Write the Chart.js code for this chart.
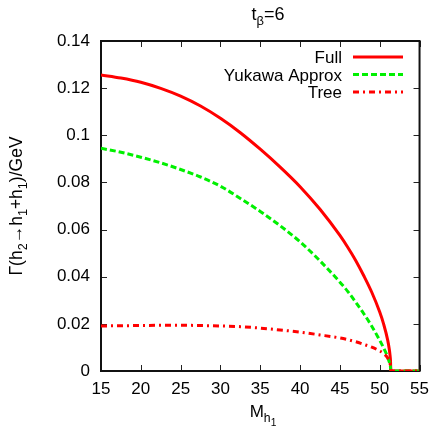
<!DOCTYPE html>
<html>
<head>
<meta charset="utf-8">
<script src="https://cdn.jsdelivr.net/npm/chart.js@4.4.0/dist/chart.umd.min.js"></script>
<style>
  body { margin: 0; background: #fff; }
  #wrap { width: 437px; height: 426px; }
</style>
</head>
<body>
<div id="wrap"><canvas id="myChart" width="437" height="426"></canvas></div>
<script>
const mass = [15, 17.5, 20, 22.5, 25, 27.5, 30, 32.5, 35, 37.5, 40, 42.5, 45, 46, 47, 48, 49, 50, 50.5, 51, 51.2, 51.3, 51.35, 51.4, 52, 55];
const full = [0.1256, 0.1243, 0.1225, 0.1199, 0.1166, 0.1124, 0.1072, 0.1011, 0.0941, 0.0865, 0.0782, 0.0686, 0.0575, 0.0524, 0.0468, 0.0404, 0.0334, 0.025, 0.0198, 0.0131, 0.0092, 0.0065, 0.0046, 0, 0, 0];
const yukawa = [0.0945, 0.0928, 0.0907, 0.0883, 0.0855, 0.0823, 0.0784, 0.0732, 0.0677, 0.0616, 0.0548, 0.0467, 0.0377, 0.0337, 0.0291, 0.0243, 0.019, 0.013, 0.0097, 0.0059, 0.0038, 0.0026, 0.0018, 0, 0, 0];
const tree = [0.0191, 0.0192, 0.0193, 0.0194, 0.0194, 0.0193, 0.0191, 0.0188, 0.0182, 0.0174, 0.0165, 0.0153, 0.014, 0.0133, 0.0124, 0.0113, 0.0101, 0.0085, 0.0074, 0.0055, 0.004, 0.003, 0.0022, 0, 0, 0];
const seriesNames = ['Full', 'Yukawa Approx', 'Tree'];
const xTicks = [15, 20, 25, 30, 35, 40, 45, 50, 55];
const yTicks = [0, 0.02, 0.04, 0.06, 0.08, 0.1, 0.12, 0.14];

const FONT = 'Liberation Sans, Arial, sans-serif';

const pts = (ys) => mass.map((m, i) => ({ x: m, y: ys[i] }));

// draws pieces of text with sub/superscripts: [[text, level], ...]
function richText(ctx, parts, x, y, size, align) {
    const sz = l => l === 1 ? size * 0.72 : (l === 2 ? size * 0.6 : size);
    let total = 0;
    parts.forEach(p => {
        ctx.font = sz(p[1]) + 'px ' + FONT;
        total += ctx.measureText(p[0]).width;
    });
    let cx = align === 'center' ? x - total / 2 : x;
    parts.forEach(p => {
        ctx.font = sz(p[1]) + 'px ' + FONT;
        const dy = p[1] === 1 ? size * 0.3 : (p[1] === 2 ? size * 0.5 : 0);
        ctx.fillText(p[0], cx, y + dy);
        cx += ctx.measureText(p[0]).width;
    });
}

const framePlugin = {
    id: 'frame',
    beforeDatasetsDraw(chart) {
        const { ctx, chartArea: a, scales } = chart;
        ctx.save();
        ctx.strokeStyle = '#222';
        ctx.lineWidth = 1;
        const tl = 6;
        xTicks.forEach(v => {
            const px = Math.round(scales.x.getPixelForValue(v)) + 0.5;
            ctx.beginPath();
            ctx.moveTo(px, a.bottom); ctx.lineTo(px, a.bottom - tl);
            ctx.moveTo(px, a.top); ctx.lineTo(px, a.top + tl);
            ctx.stroke();
        });
        yTicks.forEach(v => {
            const py = Math.round(scales.y.getPixelForValue(v)) + 0.5;
            ctx.beginPath();
            ctx.moveTo(a.left, py); ctx.lineTo(a.left + tl, py);
            ctx.moveTo(a.right, py); ctx.lineTo(a.right - tl, py);
            ctx.stroke();
        });
        ctx.lineWidth = 2;
        ctx.strokeStyle = '#111';
        ctx.strokeRect(a.left, a.top, a.right - a.left, a.bottom - a.top);
        ctx.restore();
    },
    afterDraw(chart) {
        const { ctx } = chart;
        ctx.save();
        ctx.fillStyle = '#000';
        ctx.textBaseline = 'alphabetic';

        // legend: text then sample line
        const rows = [57, 74.5, 92];
        chart.data.datasets.forEach((ds, i) => {
            ctx.font = '17px ' + FONT;
            ctx.textAlign = 'right';
            ctx.fillText(ds.label, 342, rows[i] + 6);
            ctx.strokeStyle = ds.borderColor;
            ctx.lineWidth = ds.borderWidth;
            ctx.setLineDash(ds.borderDash || []);
            ctx.beginPath();
            ctx.moveTo(353, rows[i]); ctx.lineTo(403, rows[i]);
            ctx.stroke();
        });
        ctx.setLineDash([]);
        ctx.textAlign = 'left';

        // title
        richText(ctx, [['t', 0], ['β', 1], ['=6', 0]], 268, 20, 18, 'center');

        // x label
        richText(ctx, [['M', 0], ['h', 1], ['1', 2]], 263, 417, 17, 'center');

        // y label
        ctx.translate(22, 206);
        ctx.rotate(-Math.PI / 2);
        richText(ctx, [['Γ(h', 0], ['2', 1], ['→h', 0], ['1', 1], ['+h', 0], ['1', 1], [')/GeV', 0]], 0, 0, 17.5, 'center');
        ctx.restore();
    }
};

window.onload = () => {
    const ctx = document.getElementById('myChart');

    const data = {
        datasets: [{
            label: seriesNames[0],
            data: pts(full),
            borderColor: '#ff0000',
            borderWidth: 3,
            order: 3
        }, {
            label: seriesNames[1],
            data: pts(yukawa),
            borderColor: '#00f000',
            borderWidth: 3,
            borderDash: [6, 3],
            order: 2
        }, {
            label: seriesNames[2],
            data: pts(tree),
            borderColor: '#ff0000',
            borderWidth: 3,
            borderDash: [6, 4, 2, 4],
            order: 1
        }]
    };

    new Chart(ctx, {
        type: 'line',
        data: data,
        plugins: [framePlugin],
        options: {
            responsive: false,
            animation: false,
            layout: { padding: { top: 41, right: 13, bottom: 31, left: 0 } },
            plugins: {
                legend: { display: false },
                tooltip: { enabled: false }
            },
            elements: {
                point: { radius: 0 },
                line: { cubicInterpolationMode: 'monotone', fill: false }
            },
            scales: {
                x: {
                    type: 'linear',
                    min: 15,
                    max: 55,
                    afterFit: s => { s.height = 24; },
                    afterBuildTicks: s => { s.ticks = xTicks.map(v => ({ value: v })); },
                    border: { display: false },
                    grid: { display: false, drawTicks: false },
                    ticks: {
                        padding: 8,
                        color: '#000',
                        font: { family: FONT, size: 17 }
                    }
                },
                y: {
                    min: 0,
                    max: 0.14,
                    afterFit: s => { s.width = 101; },
                    afterBuildTicks: s => { s.ticks = yTicks.map(v => ({ value: v })); },
                    border: { display: false },
                    grid: { display: false, drawTicks: false },
                    ticks: {
                        padding: 11,
                        color: '#000',
                        font: { family: FONT, size: 17 },
                        callback: v => String(+v.toFixed(2))
                    }
                }
            }
        }
    });
}
</script>
</body>
</html>
